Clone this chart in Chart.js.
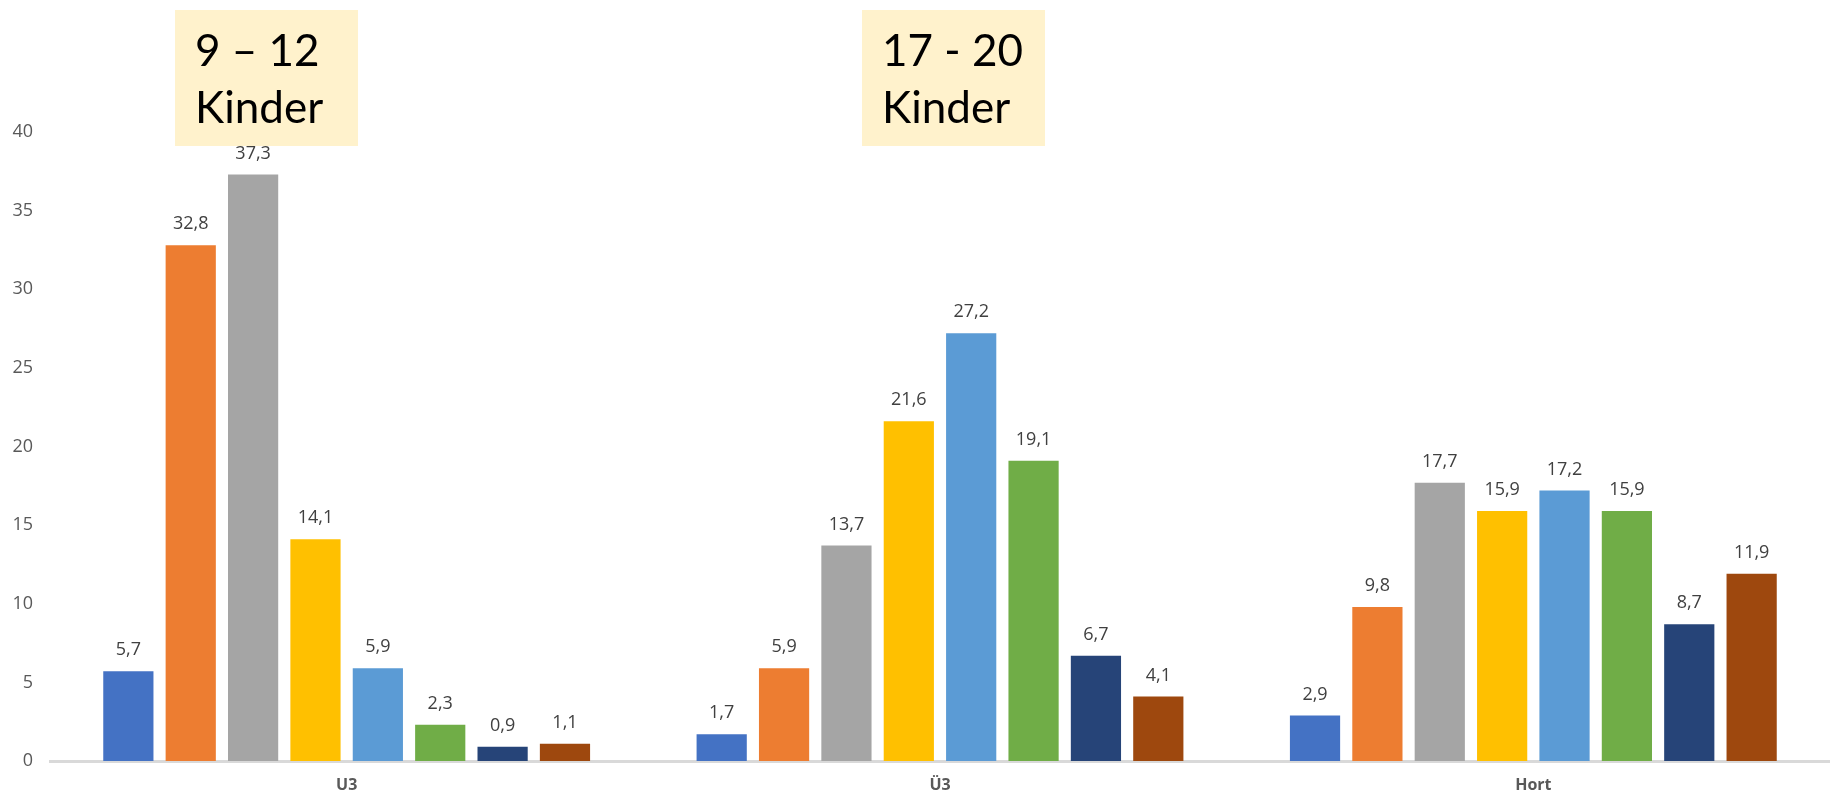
<!DOCTYPE html>
<html>
<head>
<meta charset="utf-8">
<script src="https://cdn.jsdelivr.net/npm/chart.js@4.4.1/dist/chart.umd.min.js"></script>
<style>
  html, body { margin: 0; padding: 0; background: #ffffff; }
  #wrap { position: relative; width: 1830px; height: 807px; }
</style>
</head>
<body>
<div id="wrap"><canvas id="c" width="1830" height="807"></canvas></div>
<script>
const categories = ['U3', 'Ü3', 'Hort'];
const seriesNames = ['Reihe 1', 'Reihe 2', 'Reihe 3', 'Reihe 4', 'Reihe 5', 'Reihe 6', 'Reihe 7', 'Reihe 8'];
const series1 = [5.7, 1.7, 2.9];
const series2 = [32.8, 5.9, 9.8];
const series3 = [37.3, 13.7, 17.7];
const series4 = [14.1, 21.6, 15.9];
const series5 = [5.9, 27.2, 17.2];
const series6 = [2.3, 19.1, 15.9];
const series7 = [0.9, 6.7, 8.7];
const series8 = [1.1, 4.1, 11.9];
const yTicks = [0, 5, 10, 15, 20, 25, 30, 35, 40];
const annotations = [
  { lines: ['9 \u2013 12', 'Kinder'] },
  { lines: ['17 - 20', 'Kinder'] }
];

const colors = ['#4472C4', '#ED7D31', '#A5A5A5', '#FFC000', '#5B9BD5', '#70AD47', '#264478', '#9E480E'];
const allSeries = [series1, series2, series3, series4, series5, series6, series7, series8];

const datasets = allSeries.map((vals, i) => ({
  label: seriesNames[i],
  data: vals,
  backgroundColor: colors[i],
  borderWidth: 0,
  categoryPercentage: 0.841,
  barPercentage: 0.805
}));

const valueLabels = {
  id: 'valueLabels',
  afterDatasetsDraw(chart) {
    const ctx = chart.ctx;
    ctx.save();
    ctx.font = '18px "Open Sans"';
    ctx.fillStyle = '#404040';
    ctx.textAlign = 'center';
    ctx.textBaseline = 'middle';
    chart.data.datasets.forEach((ds, di) => {
      const meta = chart.getDatasetMeta(di);
      meta.data.forEach((bar, i) => {
        const v = ds.data[i];
        ctx.fillText(v.toFixed(1).replace('.', ','), bar.x, bar.y - 21);
      });
    });
    ctx.restore();
  }
};

const boxes = {
  id: 'boxes',
  afterDraw(chart) {
    const ctx = chart.ctx;
    const pos = [{ x: 175, y: 10, w: 183, h: 136 }, { x: 862, y: 10, w: 183, h: 136 }];
    ctx.save();
    annotations.forEach((a, k) => {
      const p = pos[k];
      ctx.fillStyle = '#FFF2CC';
      ctx.fillRect(p.x, p.y, p.w, p.h);
      ctx.fillStyle = '#000000';
      ctx.font = '44px Lato';
      ctx.textAlign = 'left';
      ctx.textBaseline = 'alphabetic';
      ctx.fillText(a.lines[0], p.x + 20, p.y + 56);
      ctx.fillText(a.lines[1], p.x + 20, p.y + 113);
    });
    ctx.restore();
  }
};

new Chart(document.getElementById('c'), {
  type: 'bar',
  data: { labels: categories, datasets },
  options: {
    responsive: false,
    animation: false,
    layout: { padding: { top: 132, right: 0, left: 0, bottom: 0 } },
    plugins: { legend: { display: false }, tooltip: { enabled: false } },
    scales: {
      x: {
        grid: { display: false, drawTicks: false },
        border: { display: true, color: '#D9D9D9', width: 3 },
        ticks: { color: '#595959', font: { family: '"Open Sans"', size: 16, weight: 'bold' }, padding: 15 },
        afterFit(s) { s.height = 46; }
      },
      y: {
        min: 0, max: 40,
        afterBuildTicks(s) { s.ticks = yTicks.map(v => ({ value: v })); },
        grid: { display: false, drawTicks: false },
        border: { display: false },
        ticks: { color: '#595959', font: { family: '"Open Sans"', size: 18 }, padding: 17 },
        afterFit(s) { s.width = 50; }
      }
    }
  },
  plugins: [valueLabels, boxes]
});
</script>
</body>
</html>
